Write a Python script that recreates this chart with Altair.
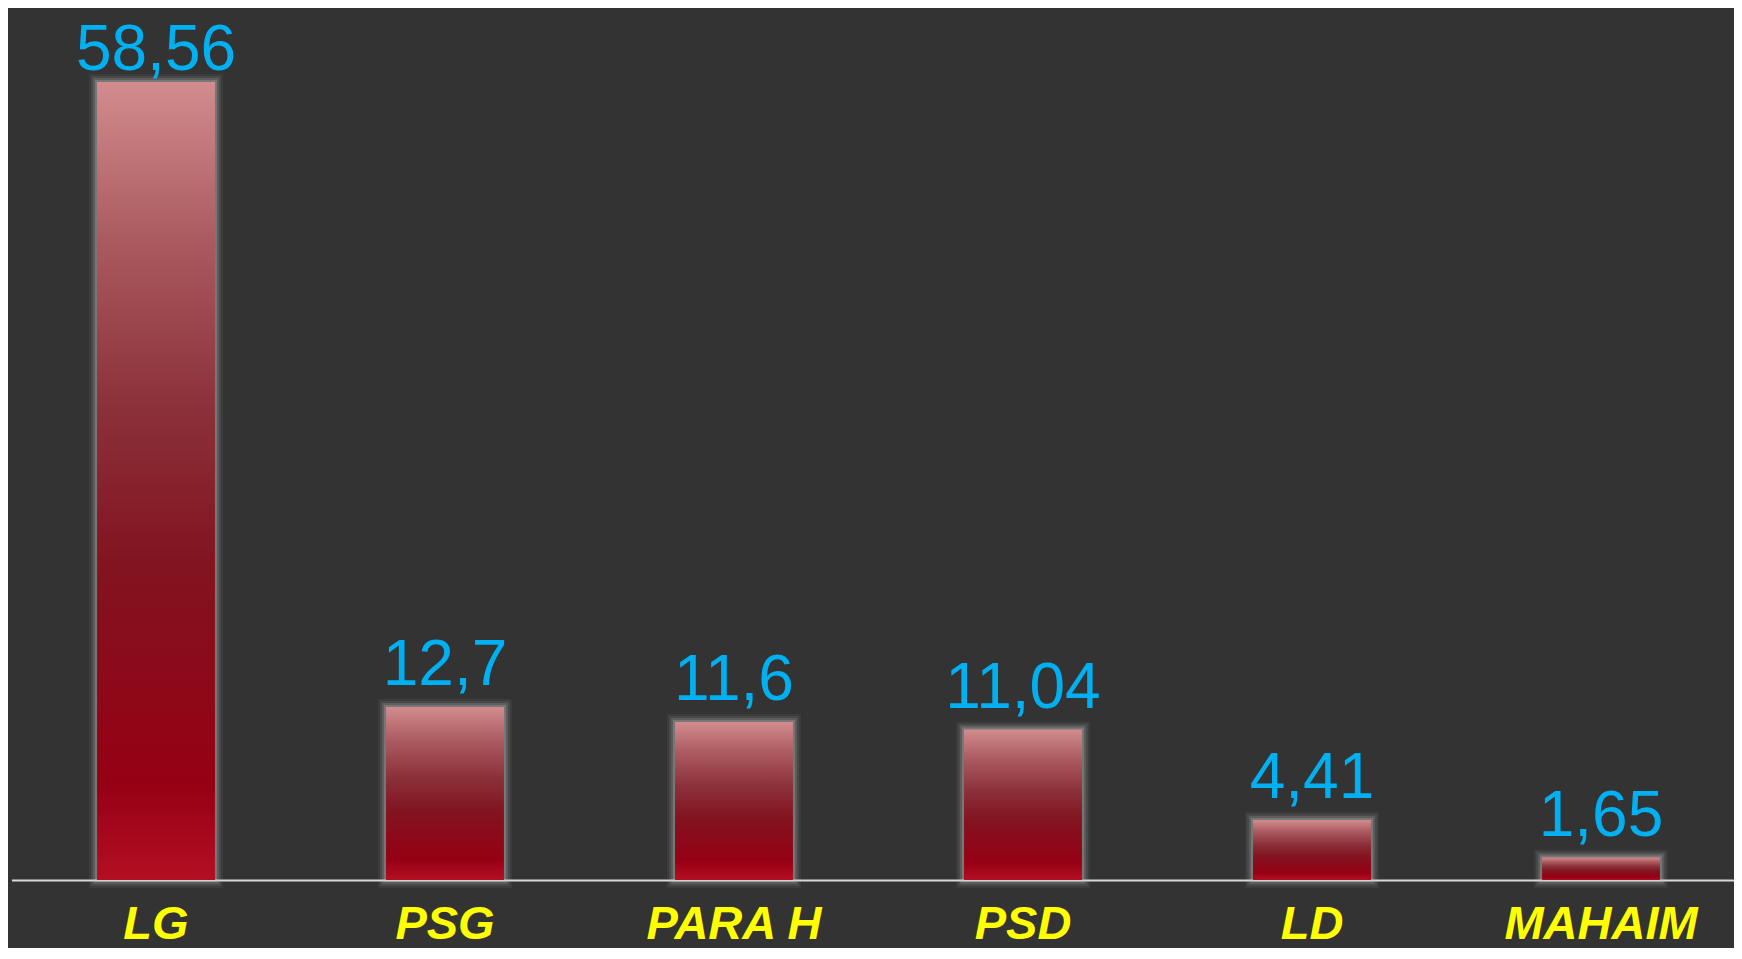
import altair as alt
import pandas as pd

categories = ["LG", "PSG", "PARA H", "PSD", "LD", "MAHAIM"]
values = [58.56, 12.7, 11.6, 11.04, 4.41, 1.65]
value_labels = ["58,56", "12,7", "11,6", "11,04", "4,41", "1,65"]

df = pd.DataFrame({"party": categories, "value": values, "label": value_labels})

gradient = alt.LinearGradient(
    gradient="linear",
    x1=0, x2=0, y1=0, y2=1,
    stops=[
        alt.GradientStop(color="#D28C8E", offset=0),
        alt.GradientStop(color="#AA5A5F", offset=0.2),
        alt.GradientStop(color="#8C323A", offset=0.4),
        alt.GradientStop(color="#821420", offset=0.6),
        alt.GradientStop(color="#960014", offset=0.88),
        alt.GradientStop(color="#B40F23", offset=1),
    ],
)

x_enc = alt.X(
    "party:N",
    sort=categories,
    title=None,
    scale=alt.Scale(range=[0, 1734], paddingInner=0.592, paddingOuter=0.296),
    axis=alt.Axis(
        labelAngle=0,
        labelFont="Liberation Sans",
        labelFontSize=47,
        labelFontWeight="bold",
        labelFontStyle="italic",
        labelColor="#FFFF00",
        labelBaseline="alphabetic",
        labelPadding=58,
        labelLimit=0,
        labelOverlap=False,
        ticks=False,
        domainColor="#D9D9D9",
        domainWidth=2,
        grid=False,
    ),
)
y_enc = alt.Y(
    "value:Q",
    title=None,
    scale=alt.Scale(domain=[0, 64], nice=False),
    axis=None,
)

base = alt.Chart(df)

halos = [
    base.mark_bar(fillOpacity=0.0, stroke="#C8C8C8", strokeWidth=w, strokeOpacity=o).encode(x=x_enc, y=y_enc)
    for w, o in [(16, 0.06), (12, 0.1), (8, 0.16), (4, 0.25)]
]
bars = base.mark_bar(color=gradient).encode(x=x_enc, y=y_enc)

text_style = dict(
    font="Liberation Sans",
    fontSize=64,
    color="#00B0F0",
    baseline="alphabetic",
    align="center",
)
text_enc = dict(x=alt.X("party:N", sort=categories), y="value:Q", text="label:N")

text_top = base.transform_filter("datum.value > 50").mark_text(dy=-12, **text_style).encode(**text_enc)
text_rest = base.transform_filter("datum.value <= 50").mark_text(dy=-22, **text_style).encode(**text_enc)

chart = (
    alt.layer(*halos, bars, text_top, text_rest)
    .properties(
        width=1722,
        height=872,
        autosize=alt.AutoSizeParams(type="none"),
        padding={"left": 3.5, "top": 0, "right": 0, "bottom": 68},
        background="#333333",
    )
    .configure_view(stroke=None)
)

chart.save("out.html", embed_options={"renderer": "svg", "actions": False})
